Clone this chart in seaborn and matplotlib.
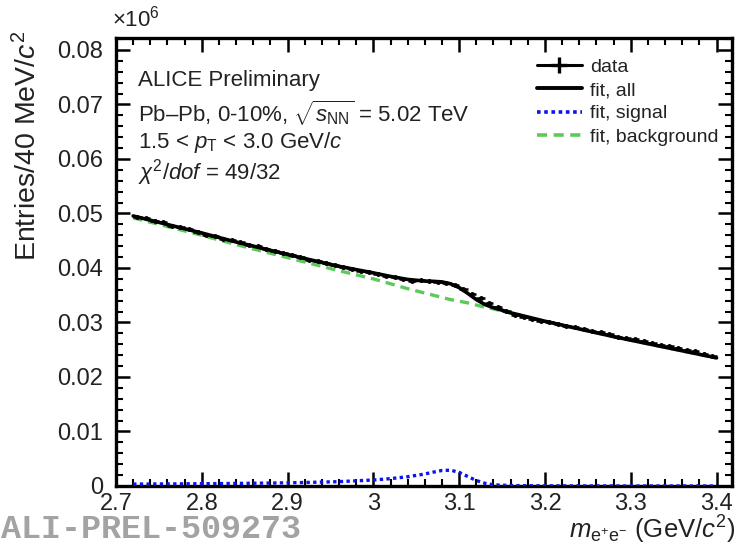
import matplotlib
matplotlib.use("Agg")
import matplotlib.pyplot as plt
from matplotlib.ticker import MultipleLocator, FuncFormatter
from matplotlib.lines import Line2D
import seaborn as sns
import pandas as pd

# Invariant-mass spectrum (entries in units of 10^6 per bin)
data_mass = [2.725, 2.735, 2.745, 2.755, 2.765, 2.775, 2.785, 2.795, 2.805, 2.815,
             2.825, 2.835, 2.845, 2.855, 2.865, 2.875, 2.885, 2.895, 2.905, 2.915,
             2.925, 2.935, 2.945, 2.955, 2.965, 2.975, 2.985, 2.995, 3.005, 3.015,
             3.025, 3.035, 3.045, 3.055, 3.065, 3.075, 3.085, 3.095, 3.105, 3.115,
             3.125, 3.135, 3.145, 3.155, 3.165, 3.175, 3.185, 3.195, 3.205, 3.215,
             3.225, 3.235, 3.245, 3.255, 3.265, 3.275, 3.285, 3.295, 3.305, 3.315,
             3.325, 3.335, 3.345, 3.355, 3.365, 3.375, 3.385, 3.395]
data_entries = [0.0494, 0.0491, 0.0487, 0.0484, 0.0477, 0.0475, 0.0472, 0.0466, 0.0461, 0.0459,
                0.0454, 0.0451, 0.0447, 0.0443, 0.0440, 0.0434, 0.0432, 0.0428, 0.0424, 0.0420,
                0.0415, 0.0412, 0.0410, 0.0405, 0.0401, 0.0398, 0.0394, 0.0392, 0.0389, 0.0386,
                0.0384, 0.0380, 0.0377, 0.0378, 0.0376, 0.0374, 0.0373, 0.0369, 0.0362, 0.0352,
                0.0345, 0.0336, 0.0329, 0.0321, 0.0314, 0.0311, 0.0307, 0.0303, 0.0301, 0.0297,
                0.0294, 0.0291, 0.0288, 0.0284, 0.0282, 0.0278, 0.0274, 0.0271, 0.0269, 0.0266,
                0.0263, 0.0259, 0.0257, 0.0253, 0.0250, 0.0247, 0.0243, 0.0239]
data_err = [0.0002] * len(data_entries)
bin_half_width = 0.005

# Fit components
fit_mass = [2.72, 2.76, 2.80, 2.84, 2.88, 2.92, 2.96, 3.00, 3.02, 3.04,
            3.06, 3.07, 3.08, 3.09, 3.10, 3.11, 3.12, 3.13, 3.14, 3.16,
            3.20, 3.24, 3.28, 3.32, 3.36, 3.40]
fit_background = [0.0492, 0.0476, 0.0460, 0.0443, 0.0427, 0.0411, 0.0395, 0.0380, 0.0371, 0.0362,
                  0.0354, 0.0350, 0.0346, 0.0342, 0.0339, 0.0336, 0.0332, 0.0328, 0.0325, 0.0317,
                  0.0302, 0.0288, 0.0274, 0.0261, 0.0248, 0.0235]
fit_signal = [0.00035, 0.00038, 0.00042, 0.00047, 0.00054, 0.00064, 0.00080, 0.00110, 0.00135, 0.00170,
              0.00220, 0.00255, 0.00285, 0.00290, 0.00250, 0.00175, 0.00100, 0.00050, 0.00022, 0.00008,
              0.00003, 0.00002, 0.00001, 0.00001, 0.00001, 0.00001]
fit_all = [0.04955, 0.04798, 0.04642, 0.04477, 0.04324, 0.04174, 0.04030, 0.03910, 0.03845, 0.03790,
           0.03760, 0.03755, 0.03745, 0.03710, 0.03640, 0.03535, 0.03420, 0.03330, 0.03272, 0.03178,
           0.03023, 0.02882, 0.02741, 0.02611, 0.02481, 0.02351]

sns.set_theme(style="ticks")
plt.rcParams["font.family"] = ["Liberation Sans", "DejaVu Sans"]
plt.rcParams["mathtext.fontset"] = "custom"
plt.rcParams["mathtext.rm"] = "Liberation Sans"
plt.rcParams["mathtext.it"] = "Liberation Sans:italic"
plt.rcParams["mathtext.bf"] = "Liberation Sans:bold"

TEXT = "#222222"
W, H = 741, 546
fig = plt.figure(figsize=(W / 100, H / 100), dpi=100)
fig.patch.set_facecolor("white")
left, right, top, bottom = 116, 732, 38, 486
ax = fig.add_axes([left / W, 1 - bottom / H, (right - left) / W, (bottom - top) / H])
ax.set_facecolor("white")

fits = pd.DataFrame({"mass": fit_mass, "all": fit_all,
                     "signal": fit_signal, "background": fit_background})

BKG_COLOR = "#5ec85a"
SIG_COLOR = "#0a14f0"
BKG_DASH = (0, (2.8, 1.8))
SIG_DOT = (0, (1.0, 1.0))

sns.lineplot(data=fits, x="mass", y="background", ax=ax, color=BKG_COLOR, lw=2.4,
             linestyle=BKG_DASH, zorder=3)
sns.lineplot(data=fits, x="mass", y="signal", ax=ax, color=SIG_COLOR, lw=2.4,
             linestyle=SIG_DOT, zorder=3)
sns.lineplot(data=fits, x="mass", y="all", ax=ax, color="black", lw=2.6, zorder=4)
ax.errorbar(data_mass, data_entries, xerr=bin_half_width, yerr=data_err,
            fmt="o", ms=2.5, color="black", ecolor="black", elinewidth=1.8,
            capsize=0, zorder=5)

ax.set_xlim(2.70, 3.418)
ax.set_ylim(0, 0.0822)
ax.set_xlabel("")
ax.set_ylabel("")

ax.xaxis.set_major_locator(MultipleLocator(0.1))
ax.xaxis.set_minor_locator(MultipleLocator(0.02))
ax.yaxis.set_major_locator(MultipleLocator(0.01))
ax.yaxis.set_minor_locator(MultipleLocator(0.002))
ax.xaxis.set_major_formatter(FuncFormatter(lambda v, p: f"{v:g}"))
ax.yaxis.set_major_formatter(FuncFormatter(lambda v, p: "0" if abs(v) < 1e-9 else f"{v:.2f}"))
ax.tick_params(which="both", direction="in", top=True, right=True, color="black")
ax.tick_params(which="major", length=10, width=1.8, labelsize=17, labelcolor=TEXT)
ax.tick_params(axis="x", which="major", pad=5)
ax.tick_params(axis="y", which="major", pad=9)
ax.tick_params(which="minor", length=5, width=1.5)
for sp in ax.spines.values():
    sp.set_linewidth(2.4)
    sp.set_color("black")

# Legend
handles = [
    Line2D([], [], color="black", lw=2.2, marker="+", ms=11, mew=2.4),
    Line2D([], [], color="black", lw=2.8),
    Line2D([], [], color=SIG_COLOR, lw=2.6, linestyle=SIG_DOT),
    Line2D([], [], color=BKG_COLOR, lw=2.6, linestyle=BKG_DASH),
]
labels = ["data", "fit, all", "fit, signal", "fit, background"]
ax.legend(handles, labels, loc="upper right",
          bbox_to_anchor=(719 / W, 1 - 58 / H), bbox_transform=fig.transFigure,
          frameon=False, fontsize=14, handlelength=2.3, handletextpad=0.45,
          labelspacing=0.3, borderpad=0, borderaxespad=0, labelcolor=TEXT)

# Annotations
tx = 0.036
ax.text(tx, 0.906, "ALICE Preliminary", transform=ax.transAxes, fontsize=16,
        va="center", ha="left", color=TEXT)
ax.text(tx, 0.832, "Pb\u2013Pb, 0-10%, $\\sqrt{s_{\\rm NN}}$ = 5.02 TeV", transform=ax.transAxes,
        fontsize=16, va="center", ha="left", color=TEXT)
ax.text(tx, 0.766, r"1.5 < $p_{\rm T}$ < 3.0 GeV/$c$", transform=ax.transAxes,
        fontsize=16, va="center", ha="left", color=TEXT)
ax.text(tx, 0.700, r"$\chi^{2}$/$dof$ = 49/32", transform=ax.transAxes,
        fontsize=16, va="center", ha="left", color=TEXT)

fig.text(112 / W, 1 - 19 / H, r"$\times$10$^{6}$", fontsize=16, ha="left", va="center",
         color=TEXT)
fig.text(28 / W, 1 - 31 / H, r"Entries/40 MeV/$c^{2}$", rotation=90, fontsize=20.5,
         ha="center", va="top", color=TEXT)
fig.text(735 / W, 1 - 530 / H, r"$m_{\rm e^{+}e^{-}}$ (GeV/$c^{2}$)", fontsize=18.5,
         ha="right", va="center", color=TEXT)
fig.text(0.002, 1 - 530 / H, "ALI-PREL-509273", fontsize=24, family="Liberation Mono",
         weight="bold", color="#a3a3a3", ha="left", va="center")

fig.savefig("out.png", dpi=100, facecolor="white")
